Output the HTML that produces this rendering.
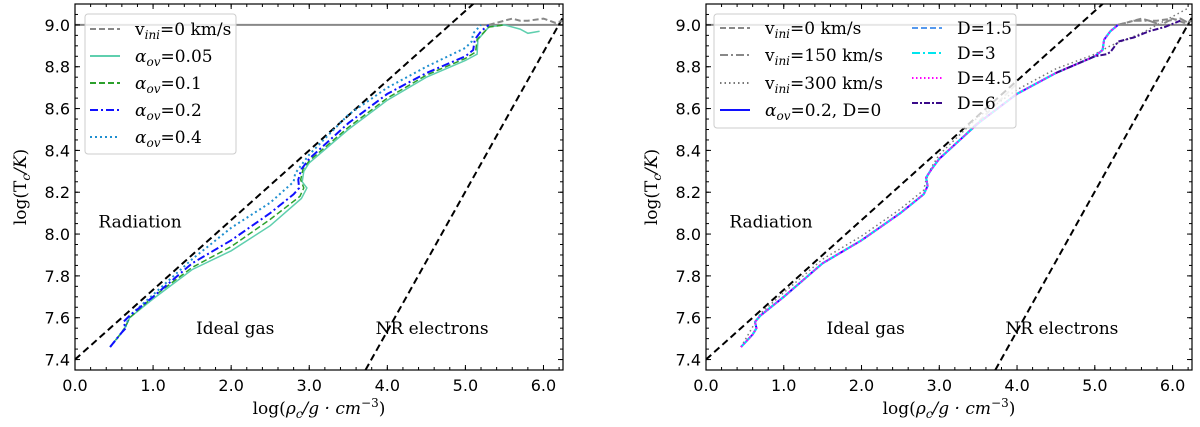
<!DOCTYPE html>
<html><head><meta charset="utf-8"><style>
body{margin:0;background:#fff;width:1200px;height:422px;overflow:hidden}
svg{font-family:"DejaVu Sans","Liberation Sans",sans-serif}
.serif{font-family:"DejaVu Serif","Liberation Serif",serif}
</style></head><body>
<svg id="chart" width="1200" height="422"></svg>
<script>
// ---- data ----
const xTicks=[0,1,2,3,4,5,6];
const yTicks=[7.4,7.6,7.8,8.0,8.2,8.4,8.6,8.8,9.0];
const radX=[0,5.2];
const nrX=[3.72,6.3];
const a02X=[0.45,0.6,0.65,0.62,0.7,1.0,1.5,2.0,2.5,2.8,2.87,2.86,2.9,3.0,3.5,4.0,4.5,5.0,5.1,5.12,5.2,5.3];
const a02Y=[7.46,7.53,7.55,7.58,7.61,7.7,7.86,7.97,8.1,8.19,8.22,8.26,8.31,8.36,8.53,8.67,8.77,8.85,8.88,8.93,8.97,9.0];
const a005X=[0.45,0.6,0.65,0.7,1.0,1.5,2.0,2.5,2.9,2.97,2.91,2.93,3.0,3.5,4.0,4.5,5.0,5.15,5.16,5.3,5.5,5.7,5.8,5.95];
const a005Y=[7.46,7.53,7.56,7.6,7.69,7.83,7.92,8.04,8.17,8.22,8.25,8.3,8.34,8.5,8.64,8.75,8.83,8.86,8.93,8.99,9.0,8.98,8.96,8.97];
const a01X=[0.45,0.6,0.65,0.7,1.0,1.5,2.0,2.5,2.88,2.93,2.89,2.92,3.0,3.5,4.0,4.5,5.0,5.13,5.15,5.3,5.5];
const a01Y=[7.46,7.53,7.56,7.6,7.7,7.84,7.94,8.07,8.18,8.22,8.26,8.31,8.35,8.51,8.65,8.76,8.84,8.87,8.93,8.99,9.0];
const a04X=[0.45,0.6,0.65,0.7,1.0,1.5,2.0,2.5,2.8,2.82,2.9,3.0,3.5,4.0,4.5,5.0,5.08,5.1,5.2];
const a04Y=[7.46,7.53,7.56,7.61,7.71,7.88,8.03,8.15,8.25,8.29,8.33,8.38,8.57,8.7,8.8,8.89,8.92,8.96,9.0];
const v0X=[5.3,5.4,5.6,5.7,5.8,6.0,6.15,6.25];
const v0Y=[9.0,9.01,9.03,9.02,9.02,9.03,9.01,9.02];
const rBaseX=[0.45,0.6,0.65,0.63,0.7,1.0,1.5,2.0,2.5,2.8,2.85,2.83,2.9,3.0,3.5,4.0,4.5,5.0,5.1,5.12,5.2,5.3];
const rBaseY=[7.46,7.52,7.55,7.58,7.61,7.7,7.86,7.97,8.1,8.19,8.23,8.27,8.31,8.36,8.53,8.67,8.77,8.85,8.88,8.93,8.97,9.0];
const v300X=[0.45,0.7,1.0,1.5,2.0,2.5,2.8,2.83,2.9,3.0,3.5,4.0,4.5,5.0,5.2,5.4,5.6,5.8,6.0,6.2];
const v300Y=[7.46,7.62,7.72,7.88,7.99,8.12,8.21,8.26,8.32,8.38,8.56,8.69,8.79,8.86,8.9,8.93,8.96,9.0,9.04,9.08];
const v150X=[5.3,5.5,5.7,5.85,5.95,6.1,6.2];
const v150Y=[9.0,9.02,9.02,9.0,9.02,9.03,9.01];
const d6X=[4.5,5.0,5.15,5.2,5.3,5.5,5.7,5.9,6.1];
const d6Y=[8.77,8.85,8.86,8.87,8.92,8.94,8.97,8.99,9.02];
const ghostX=[3.35,4.0];
const ghostY=[8.48,8.72];

const NS="http://www.w3.org/2000/svg";
const svg=document.getElementById('chart');
function mk(tag,attrs,parent){const e=document.createElementNS(NS,tag);for(const k in attrs)e.setAttribute(k,attrs[k]);(parent||svg).appendChild(e);return e;}

function panel(ox,w,id){
  const top=4,bot=370,x0=0,x1=6.25,y0=7.35,y1=9.1;
  const sx=v=>ox+(v-x0)/(x1-x0)*w;
  const sy=v=>bot-(v-y0)/(y1-y0)*(bot-top);
  const g=mk('g',{});
  
  
  const cp=mk('clipPath',{id:'c'+id},g);mk('rect',{x:ox,y:top,width:w,height:bot-top},cp);
  const plot=mk('g',{'clip-path':'url(#c'+id+')'},g);
  function line(xs,ys,col,sw,dash,name,op){
    const d=xs.map((x,i)=>(i?'L':'M')+sx(x).toFixed(1)+','+sy(ys[i]).toFixed(1)).join('');
    const p=mk('path',{d:d,fill:'none',stroke:col,'stroke-width':sw,'stroke-dasharray':dash||'none',opacity:op||1},plot);
    
    
  }
  line([x0,x1],[9,9],'#888',2,null,'line-9');
  line(radX,radX.map(x=>7.4+x/3),'#000',2,'7,4','radiation-boundary');
  line(nrX,nrX.map(x=>7.35+(x-3.72)*2/3),'#000',2,'7,4','nr-electron-boundary');
  xTicks.forEach(t=>{
    mk('line',{x1:sx(t),x2:sx(t),y1:bot,y2:bot-5,stroke:'#000'},g);
    mk('line',{x1:sx(t),x2:sx(t),y1:top,y2:top+5,stroke:'#000'},g);
    const tx=mk('text',{x:sx(t),y:bot+21,'font-size':16,'text-anchor':'middle'},g);tx.textContent=t.toFixed(1);
    
    
  });
  for(let t=0.2;t<6.25;t+=0.2){mk('line',{x1:sx(t),x2:sx(t),y1:bot,y2:bot-3,stroke:'#000'},g);mk('line',{x1:sx(t),x2:sx(t),y1:top,y2:top+3,stroke:'#000'},g);}
  yTicks.forEach(t=>{
    mk('line',{x1:ox,x2:ox+5,y1:sy(t),y2:sy(t),stroke:'#000'},g);
    mk('line',{x1:ox+w,x2:ox+w-5,y1:sy(t),y2:sy(t),stroke:'#000'},g);
    const tx=mk('text',{x:ox-5,y:sy(t)+6,'font-size':16,'text-anchor':'end'},g);tx.textContent=t.toFixed(1);
    
    
  });
  for(let t=7.35;t<9.1;t+=0.05){mk('line',{x1:ox,x2:ox+3,y1:sy(t),y2:sy(t),stroke:'#000'},g);mk('line',{x1:ox+w,x2:ox+w-3,y1:sy(t),y2:sy(t),stroke:'#000'},g);}
  mk('rect',{x:ox,y:top,width:w,height:bot-top,fill:'none',stroke:'#000','stroke-width':1.2},g);
  const xl=mk('text',{x:ox+w/2,y:414,'font-size':17,'text-anchor':'middle',class:'serif'},g);
  xl.innerHTML='log(<tspan font-style="italic">ρ</tspan><tspan font-size="12" dy="4" font-style="italic">c</tspan><tspan dy="-4" font-style="italic">/g · cm</tspan><tspan font-size="12" dy="-7">−3</tspan><tspan dy="7">)</tspan>';
  
  
  const yl=mk('text',{x:0,y:0,'font-size':17,'text-anchor':'middle',class:'serif',transform:`translate(${ox-49},${(top+bot)/2}) rotate(-90)`},g);
  yl.innerHTML='log(T<tspan font-size="12" dy="4" font-style="italic">c</tspan><tspan dy="-4" font-style="italic">/K</tspan>)';
  
  
  [['Radiation',0.3,8.06],['Ideal gas',1.55,7.55],['NR electrons',3.85,7.55]].forEach(a=>{
    const t=mk('text',{x:sx(a[1]),y:sy(a[2])+6,'font-size':17,class:'serif'},g);t.textContent=a[0];
    
    
  });
  return {sx,sy,line,g};
}

function legend(P,x,y,w,h,items){
  const lg=mk('g',{},P.g);
  
  
  mk('rect',{x:x,y:y,width:w,height:h,rx:3,fill:'#fff','fill-opacity':0.8,stroke:'#ccc'},lg);
  items.forEach(it=>{
    const e=mk('g',{},lg);
    
    
    mk('line',{x1:it[0],x2:it[0]+30,y1:it[1],y2:it[1],stroke:it[2],'stroke-width':2,'stroke-dasharray':it[3]||'none'},e);
    const t=mk('text',{x:it[0]+45,y:it[1]+6,'font-size':17,class:'serif'},e);t.innerHTML=it[4];
  });
}
const vi='v<tspan font-size="12" dy="4" font-style="italic">ini</tspan><tspan dy="-4">';
const ao='<tspan font-style="italic">α</tspan><tspan font-size="12" dy="4" font-style="italic">ov</tspan><tspan dy="-4">';

const L=panel(75,488,'left-panel');
L.line(a005X,a005Y,'#5fcfae',1.5,null,'series-aov-0.05');
L.line(a01X,a01Y,'#2ca02c',1.5,'6,3','series-aov-0.1');
L.line(a04X,a04Y,'#1f8fd0',2,'2,3','series-aov-0.4');
L.line(a02X,a02Y,'#1010ff',2,'8,3,2,3','series-aov-0.2');
L.line(v0X,v0Y,'#888',2,'6,3','series-vini-0');
legend(L,85,14,151,140,[
 [90,29,'#888','6,3',vi+'=0 km/s</tspan>'],
 [90,56,'#5fcfae',null,ao+'=0.05</tspan>'],
 [90,83,'#2ca02c','6,3',ao+'=0.1</tspan>'],
 [90,110,'#1010ff','8,3,2,3',ao+'=0.2</tspan>'],
 [90,137,'#1f8fd0','2,3',ao+'=0.4</tspan>']]);

const R=panel(706,486,'right-panel');
R.line(ghostX,ghostY,'#bbb',2,'6,3','series-vini-150-faint');
R.line(v300X,v300Y,'#777',1.5,'1.5,3','series-vini-300');
R.line(v150X,v150Y,'#888',2,'8,3,2,3','series-vini-150');
R.line(v0X,v0Y,'#888',2,'6,3','series-vini-0');
R.line(rBaseX,rBaseY,'#1010ff',2,null,'series-D-0');
R.line(rBaseX,rBaseY,'#5599ee',2,'6,3','series-D-1.5');
R.line(rBaseX,rBaseY,'#00e5ee',2,'8,3,2,3','series-D-3');
R.line(rBaseX,rBaseY,'#ff00ff',2,'1.5,2.5','series-D-4.5');
R.line(d6X,d6Y,'#3a0a8a',2,'6,2,2,2','series-D-6');
legend(R,714,14,302,114,[
 [720,28,'#888','6,3',vi+'=0 km/s</tspan>'],
 [720,55,'#888','8,3,2,3',vi+'=150 km/s</tspan>'],
 [720,83,'#777','1.5,3',vi+'=300 km/s</tspan>'],
 [720,110,'#1010ff',null,ao+'=0.2, D=0</tspan>'],
 [912,28,'#5599ee','6,3','D=1.5'],
 [912,53,'#00e5ee','8,3,2,3','D=3'],
 [912,78,'#ff00ff','1.5,2.5','D=4.5'],
 [912,103,'#3a0a8a','6,2,2,2','D=6']]);
</script>
</body></html>
